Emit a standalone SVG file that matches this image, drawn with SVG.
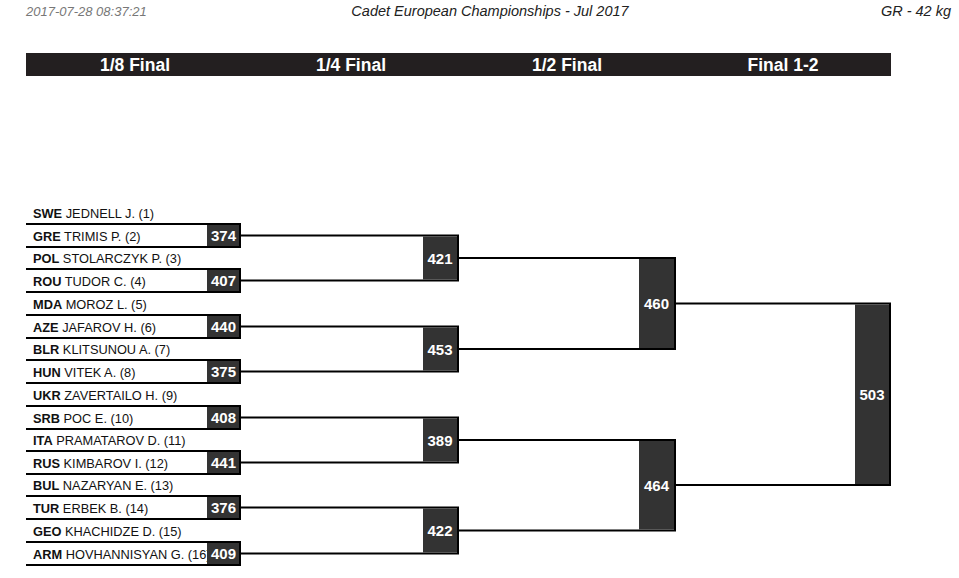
<svg xmlns="http://www.w3.org/2000/svg" width="959" height="578" viewBox="0 0 959 578">
<style>
.hdr{font-family:"Liberation Sans",Arial,sans-serif;font-style:italic;font-size:14.5px;fill:#222}
.ts{fill:#777;font-size:13px}
.bar{fill:#231f20}
.bt{font-family:"Liberation Sans",Arial,sans-serif;font-weight:bold;font-size:17.5px;fill:#fff;text-anchor:middle}
.nm{font-family:"Liberation Sans",Arial,sans-serif;font-size:12.8px;fill:#111}
.nm tspan{font-weight:bold}
.ln{stroke:#000;stroke-width:2;fill:none}
.bx{fill:#333}
.num{font-family:"Liberation Sans",Arial,sans-serif;font-weight:bold;font-size:15px;fill:#fff;text-anchor:middle}
</style>
<rect width="959" height="578" fill="#fff"/>
<text class="hdr ts" x="26" y="16">2017-07-28 08:37:21</text>
<text class="hdr" x="490" y="16" text-anchor="middle">Cadet European Championships - Jul 2017</text>
<text class="hdr" x="951" y="16" text-anchor="end">GR - 42 kg</text>
<g id="header">
<rect class="bar" x="26" y="53" width="865" height="23"/>
<text class="bt" x="135" y="71">1/8 Final</text>
<text class="bt" x="351" y="71">1/4 Final</text>
<text class="bt" x="567" y="71">1/2 Final</text>
<text class="bt" x="783" y="71">Final 1-2</text>
</g>
<g id="competitors">
<text class="nm" x="33" y="218"><tspan>SWE</tspan> JEDNELL J. (1)</text>
<text class="nm" x="33" y="241"><tspan>GRE</tspan> TRIMIS P. (2)</text>
<text class="nm" x="33" y="263"><tspan>POL</tspan> STOLARCZYK P. (3)</text>
<text class="nm" x="33" y="286"><tspan>ROU</tspan> TUDOR C. (4)</text>
<text class="nm" x="33" y="309"><tspan>MDA</tspan> MOROZ L. (5)</text>
<text class="nm" x="33" y="332"><tspan>AZE</tspan> JAFAROV H. (6)</text>
<text class="nm" x="33" y="354"><tspan>BLR</tspan> KLITSUNOU A. (7)</text>
<text class="nm" x="33" y="377"><tspan>HUN</tspan> VITEK A. (8)</text>
<text class="nm" x="33" y="400"><tspan>UKR</tspan> ZAVERTAILO H. (9)</text>
<text class="nm" x="33" y="423"><tspan>SRB</tspan> POC E. (10)</text>
<text class="nm" x="33" y="445"><tspan>ITA</tspan> PRAMATAROV D. (11)</text>
<text class="nm" x="33" y="468"><tspan>RUS</tspan> KIMBAROV I. (12)</text>
<text class="nm" x="33" y="490"><tspan>BUL</tspan> NAZARYAN E. (13)</text>
<text class="nm" x="33" y="513"><tspan>TUR</tspan> ERBEK B. (14)</text>
<text class="nm" x="33" y="536"><tspan>GEO</tspan> KHACHIDZE D. (15)</text>
<text class="nm" x="33" y="559"><tspan>ARM</tspan> HOVHANNISYAN G. (16)</text>
</g>
<g id="connectors">
<path class="ln" d="M26 224H240V247H26M26 269H240V292H26M26 315H240V338H26M26 360H240V383H26M26 406H240V429H26M26 451H240V474H26M26 496H240V519H26M26 542H240V565H26"/>
<path class="ln" d="M240 235.5H458V280.5H240M240 326.5H458V371.5H240M240 417.5H458V462.5H240M240 507.5H458V553.5H240"/>
<path class="ln" d="M458 258H675V349H458M458 440H675V530.5H458"/>
<path class="ln" d="M675 303.5H890V485H675"/>
</g>
<g id="m374"><rect class="bx" x="207" y="225" width="32" height="21"/><text class="num" x="223.5" y="241">374</text></g>
<g id="m407"><rect class="bx" x="207" y="270" width="32" height="21"/><text class="num" x="223.5" y="286">407</text></g>
<g id="m440"><rect class="bx" x="207" y="316" width="32" height="21"/><text class="num" x="223.5" y="332">440</text></g>
<g id="m375"><rect class="bx" x="207" y="361" width="32" height="21"/><text class="num" x="223.5" y="377">375</text></g>
<g id="m408"><rect class="bx" x="207" y="407" width="32" height="21"/><text class="num" x="223.5" y="423">408</text></g>
<g id="m441"><rect class="bx" x="207" y="452" width="32" height="21"/><text class="num" x="223.5" y="468">441</text></g>
<g id="m376"><rect class="bx" x="207" y="497" width="32" height="21"/><text class="num" x="223.5" y="513">376</text></g>
<g id="m409"><rect class="bx" x="207" y="543" width="32" height="21"/><text class="num" x="223.5" y="559">409</text></g>
<g id="m421"><rect class="bx" x="423" y="236.5" width="34" height="43"/><text class="num" x="440" y="263.5">421</text></g>
<g id="m453"><rect class="bx" x="423" y="327.5" width="34" height="43"/><text class="num" x="440" y="354.5">453</text></g>
<g id="m389"><rect class="bx" x="423" y="418.5" width="34" height="43"/><text class="num" x="440" y="445.5">389</text></g>
<g id="m422"><rect class="bx" x="423" y="508.5" width="34" height="44"/><text class="num" x="440" y="536">422</text></g>
<g id="m460"><rect class="bx" x="639" y="259" width="35" height="89"/><text class="num" x="656.5" y="309">460</text></g>
<g id="m464"><rect class="bx" x="639" y="441" width="35" height="88.5"/><text class="num" x="656.5" y="490.5">464</text></g>
<g id="m503"><rect class="bx" x="855" y="304.5" width="34" height="179.5"/><text class="num" x="872" y="400">503</text></g>
</svg>
